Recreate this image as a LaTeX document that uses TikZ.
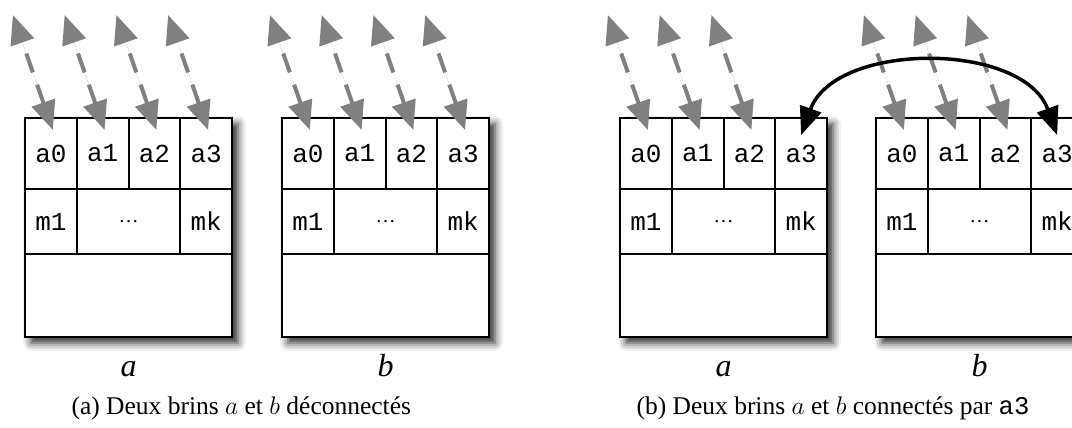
\documentclass[tikz,border=0pt]{standalone}
\usepackage{fix-cm}
\usepackage{fontspec}
\setmainfont{Liberation Serif}
\setmonofont{Liberation Mono}
\usetikzlibrary{arrows.meta, positioning, calc, shadows.blur}

% one strand: #1 name, #2 left edge, #3 label
\newcommand{\brin}[3]{%
\node[strand, anchor=north west] (#1) at (#2,310) {};
\foreach \i in {0,...,3}
  \node[cell, minimum height=71pt, anchor=north west] (#1-a\i) at ($(#1.north west)+(\i*51.75,0)$) {a\i};
\node[cell, minimum height=65pt, anchor=north west] (#1-m1) at (#1-a0.south west) {m1};
\node[cell, minimum width=103.5pt, minimum height=65pt, anchor=north west] (#1-dots) at (#1-a1.south west) {\rmfamily\fontsize{20}{20}\selectfont\ldots};
\node[cell, minimum height=65pt, anchor=north west] (#1-mk) at (#1-a3.south west) {mk};
\node[lab, anchor=base] (#1-lab) at ($(#1.south)+(0,-40)$) {#3};
}

\begin{document}
\begin{tikzpicture}[x=1pt, y=1pt,
  strand/.style={draw, line width=2pt, fill=white, minimum width=207pt, minimum height=219pt, inner sep=0pt, outer sep=0pt,
    blur shadow={shadow xshift=6pt, shadow yshift=-6pt, shadow blur radius=8pt, shadow opacity=85}},
  cell/.style={draw, line width=2pt, minimum width=51.75pt, inner sep=0pt, outer sep=0pt, font=\fontsize{26}{26}\ttfamily},
  ptr/.style={{Triangle[length=29pt,width=24pt]}-{Triangle[length=29pt,width=24pt]}, line width=4pt, draw=black!50, fill=black!50, dash pattern=on 20pt off 13pt},
  link/.style={{Triangle[length=28pt,width=22pt]}-{Triangle[length=28pt,width=22pt]}, line width=3.5pt},
  lab/.style={font=\fontsize{32}{32}\selectfont\itshape},
  capt/.style={font=\fontsize{25.5}{30}\selectfont, anchor=base west}]
\useasboundingbox (0,0) rectangle (1072,428);
% (a) two separate strands
\brin{A}{25}{a}
\brin{B}{282}{b}
% (b) two strands joined by a3
\brin{C}{620}{a}
\brin{D}{876}{b}
% free pointers
\foreach \s in {A,B}
  \foreach \i in {0,...,3}
    \draw[ptr] ([xshift=2pt,yshift=-12pt]\s-a\i.north) -- ++(-40,115);
\foreach \s in {C,D}
  \foreach \i in {0,...,2}
    \draw[ptr] ([xshift=2pt,yshift=-12pt]\s-a\i.north) -- ++(-40,115);
% connection
\draw[link] ([yshift=-17pt]C-a3.north) to[out=70, in=110] ([yshift=-17pt]D-a3.north);
\node[capt] (capa) at (68,13) {(a) Deux brins $a$ et $b$ déconnectés};
\node[capt] (capb) at (633,13) {(b) Deux brins $a$ et $b$ connectés par \texttt{a3}};
\end{tikzpicture}
\end{document}
